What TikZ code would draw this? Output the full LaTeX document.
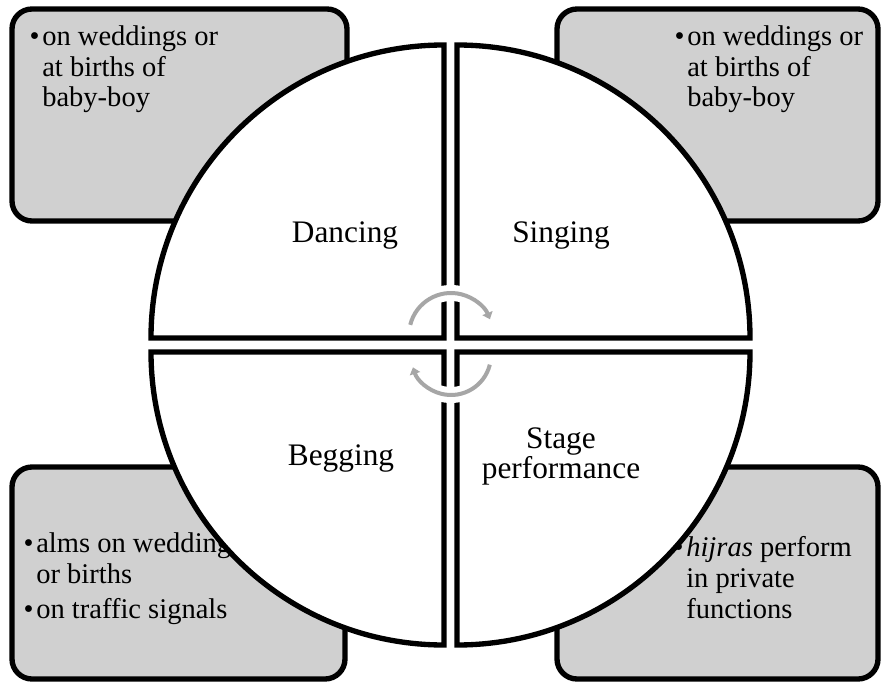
\documentclass[tikz,border=0pt]{standalone}
\usepackage{fontspec}
\setmainfont{Liberation Serif}
\usetikzlibrary{arrows.meta}
\definecolor{boxgray}{RGB}{208,208,208}
\definecolor{arrowgray}{RGB}{166,166,166}

\begin{document}
\begin{tikzpicture}[x=0.75pt, y=-0.75pt,
  infobox/.style={draw=black, line width=4pt, fill=boxgray, rounded corners=15pt},
  quarter/.style={draw=black, line width=4pt, fill=white},
  halo/.style={draw=white, line width=12pt},
  cyclearrow/.style={draw=arrowgray, line width=3pt, -{Triangle[length=5pt,width=8pt]}},
  activity/.style={font=\fontsize{23.5}{22.5}\selectfont, align=center, inner sep=0pt, anchor=base},
  note/.style={font=\fontsize{21.4}{23.2}\selectfont, align=left, inner sep=0pt, anchor=base west}]
  \useasboundingbox (0,0) rectangle (881,684);

  % grey boxes behind the circle
  \draw[infobox] (12,9) rectangle (347,221);
  \draw[infobox] (557,9) rectangle (878,221);
  \draw[infobox] (12,467) rectangle (345,679);
  \draw[infobox] (557,467) rectangle (878,679);

  % box texts (placed by the baseline of their last line)
  \node[note] (weddingsA) at (42,107) {\llap{\textbullet\hspace{2pt}}on weddings or\\at births of\\baby-boy};
  \node[note] (weddingsB) at (687,107) {\llap{\textbullet\hspace{2pt}}on weddings or\\at births of\\baby-boy};
  \node[note] (alms) at (36,618) {\llap{\textbullet\hspace{2pt}}alms on wedding\\or births\\[3pt]\llap{\textbullet\hspace{2pt}}on traffic signals};
  \node[note] (hijras) at (686,618) {\llap{\textbullet\hspace{2pt}}\textit{hijras} perform\\in private\\functions};

  % the four quarters of the circle
  \draw[quarter] (444,338) -- (151,338) arc[start angle=180, end angle=270, radius=293] -- cycle;
  \draw[quarter] (457,338) -- (457,45) arc[start angle=270, end angle=360, radius=293] -- cycle;
  \draw[quarter] (444,352) -- (151,352) arc[start angle=180, end angle=90, radius=293] -- cycle;
  \draw[quarter] (457,352) -- (750,352) arc[start angle=0, end angle=90, radius=293] -- cycle;

  \node[activity] (dancing) at (345,243) {Dancing};
  \node[activity] (singing) at (561,243) {Singing};
  \node[activity] (begging) at (341,465) {Begging};
  \node[activity] (stage) at (561,478) {Stage\\performance};

  % cycle arrows in the middle
  \draw[halo] (451,335) ++(210:42) arc[start angle=210, end angle=330, radius=42];
  \draw[halo] (451,355) ++(30:40) arc[start angle=30, end angle=150, radius=40];
  \draw[cyclearrow] (451,335) ++(194:42) arc[start angle=194, end angle=338, radius=42];
  \draw[cyclearrow] (451,355) ++(14:40) arc[start angle=14, end angle=162, radius=40];
\end{tikzpicture}
\end{document}
